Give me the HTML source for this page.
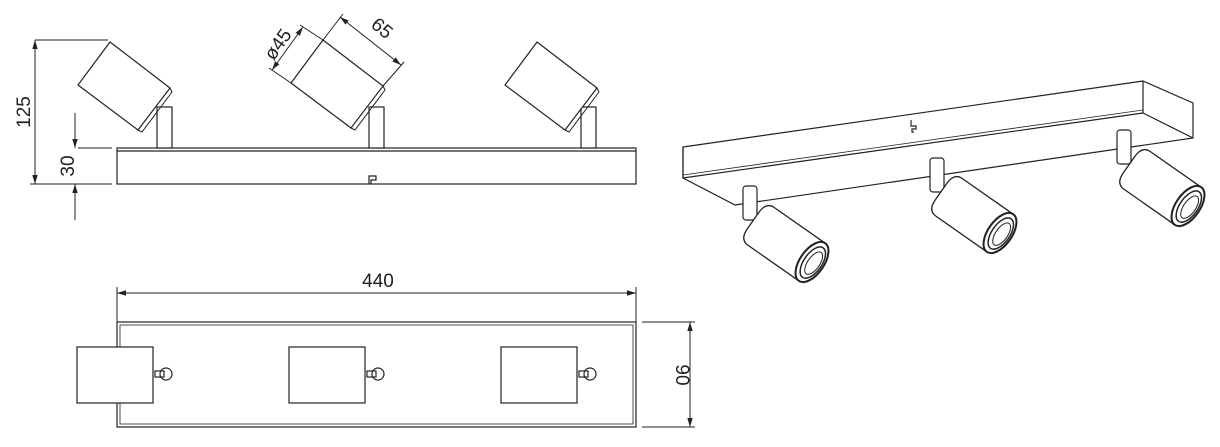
<!DOCTYPE html>
<html><head><meta charset="utf-8"><style>
html,body{margin:0;padding:0;background:#fff;}
svg{display:block;font-family:"Liberation Sans",sans-serif;}
</style></head><body>
<svg width="1220" height="447" viewBox="0 0 1220 447" xmlns="http://www.w3.org/2000/svg">
<defs>
<marker id="a" viewBox="0 0 10 10" refX="10" refY="5" markerWidth="9" markerHeight="9" orient="auto-start-reverse" markerUnits="userSpaceOnUse"><path d="M0,2 L10,5 L0,8 z" fill="#222"/></marker>
<g id="head">
<polygon points="0,0 60,46 28,88 -32,43" fill="#fff" stroke="#222" stroke-width="1.2"/>
<polyline points="60,46 62,50 32,90 28,88" fill="none" stroke="#222" stroke-width="1"/>
</g>
<g id="spot">
<path d="M-62,-23 L0,-23 L0,23 L-62,23 Q-72,23 -72,10 L-72,-10 Q-72,-23 -62,-23 z" fill="#fff" stroke="#222" stroke-width="1.3"/>
<ellipse cx="0" cy="0" rx="12" ry="23" fill="#fff" stroke="#222" stroke-width="2"/>
<ellipse cx="1" cy="0" rx="9" ry="18" fill="none" stroke="#222" stroke-width="1.5"/>
<ellipse cx="2" cy="0" rx="6" ry="13" fill="none" stroke="#222" stroke-width="1"/>
</g>
</defs>
<g stroke="#222" fill="none" stroke-width="1.2">
<rect x="117" y="148" width="519" height="36" fill="#fff"/>
<line x1="117" y1="151" x2="636" y2="151"/>
<path d="M369,184 L369,176 L376,176 L376,180 L371,180 L371,184" />
<rect x="157" y="107" width="15" height="41" fill="#fff"/>
<rect x="369" y="107" width="15" height="41" fill="#fff"/>
<rect x="581" y="107" width="15" height="41" fill="#fff"/>
<use href="#head" x="110" y="42"/>
<use href="#head" x="323" y="40"/>
<use href="#head" x="537" y="42"/>
<line x1="35" y1="40" x2="108" y2="40" stroke-width="1"/>
<line x1="35" y1="40" x2="35" y2="184" marker-start="url(#a)" marker-end="url(#a)" stroke-width="1"/>
<line x1="30" y1="184" x2="112" y2="184" stroke-width="1"/>
<line x1="78" y1="148" x2="112" y2="148" stroke-width="1"/>
<line x1="75" y1="113" x2="75" y2="148" marker-end="url(#a)" stroke-width="1"/>
<line x1="75" y1="220" x2="75" y2="184" marker-end="url(#a)" stroke-width="1"/>
<line x1="323" y1="40" x2="343" y2="14" stroke-width="1"/>
<line x1="383" y1="86" x2="404" y2="62" stroke-width="1"/>
<line x1="340" y1="17" x2="401" y2="65" marker-start="url(#a)" marker-end="url(#a)" stroke-width="1"/>
<line x1="323" y1="40" x2="300" y2="25" stroke-width="1"/>
<line x1="291" y1="83" x2="269" y2="68" stroke-width="1"/>
<line x1="303" y1="27" x2="272" y2="70" marker-start="url(#a)" marker-end="url(#a)" stroke-width="1"/>
<line x1="117" y1="293" x2="636" y2="293" marker-start="url(#a)" marker-end="url(#a)" stroke-width="1"/>
<line x1="117" y1="287" x2="117" y2="322" stroke-width="1"/>
<line x1="636" y1="287" x2="636" y2="322" stroke-width="1"/>
<rect x="117" y="322" width="519" height="105" fill="#fff"/>
<rect x="120" y="325" width="513" height="99" stroke-width="0.8"/>
<rect x="77" y="347" width="76" height="56" fill="#fff"/>
<rect x="289" y="347" width="76" height="56" fill="#fff"/>
<rect x="501" y="347" width="76" height="56" fill="#fff"/>
<g id="k"><circle cx="166" cy="374" r="6"/><rect x="155" y="371" width="9" height="6"/></g>
<use href="#k" x="212"/><use href="#k" x="424"/>
<line x1="642" y1="322" x2="695" y2="322" stroke-width="1"/>
<line x1="642" y1="427" x2="695" y2="427" stroke-width="1"/>
<line x1="690" y1="322" x2="690" y2="427" marker-start="url(#a)" marker-end="url(#a)" stroke-width="1"/>
<polygon points="683,147 1143,81 1193,103 1193,138 735,205 683,178" fill="#fff"/>
<line x1="683" y1="178" x2="1143" y2="113"/>
<line x1="683" y1="175" x2="1143" y2="110" stroke-width="0.8"/>
<line x1="1143" y1="81" x2="1143" y2="113"/>
<line x1="1143" y1="113" x2="1193" y2="138"/>
<line x1="683" y1="147" x2="683" y2="178"/>
<path d="M911,120 L911,126 L916,126 L916,129 L912,129 L912,132 L914,132"/>
<g fill="#fff">
<rect x="743" y="186" width="14" height="34" rx="3"/>
<rect x="930" y="158" width="14" height="34" rx="3"/>
<rect x="1117" y="130" width="14" height="34" rx="3"/>
</g>
</g>
<use href="#spot" transform="translate(812,262) rotate(35)"/>
<use href="#spot" transform="translate(1000,233) rotate(35)"/>
<use href="#spot" transform="translate(1188,206) rotate(35)"/>
<g fill="#222" font-size="19">
<text x="30" y="112" transform="rotate(-90 30 112)" text-anchor="middle">125</text>
<text x="74" y="166" transform="rotate(-90 74 166)" text-anchor="middle">30</text>
<text x="378" y="33" transform="rotate(40 378 33)" text-anchor="middle">65</text>
<text x="283" y="48" transform="rotate(-55 283 48)" text-anchor="middle">ø45</text>
<text x="378" y="287" text-anchor="middle">440</text>
<text x="676" y="375" transform="rotate(90 676 375)" text-anchor="middle">90</text>
</g>
</svg>
</body></html>
